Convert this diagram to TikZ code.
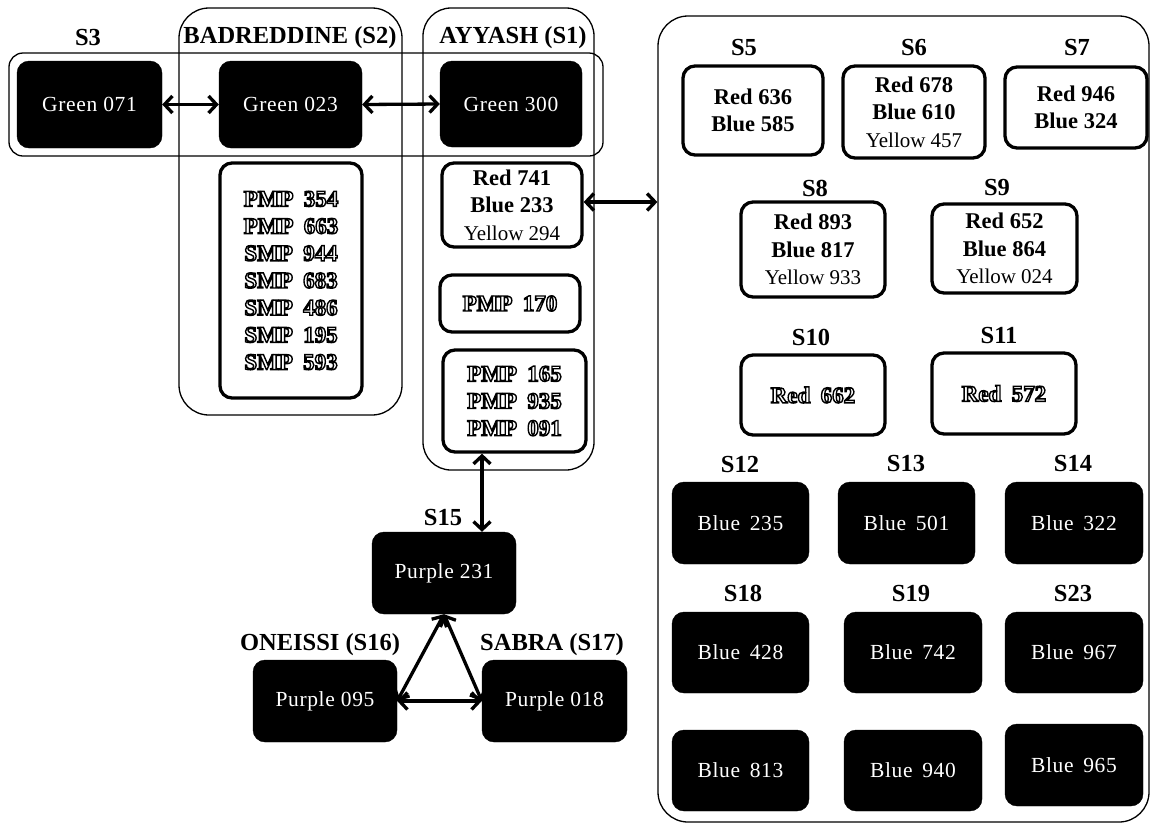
\documentclass[tikz,border=0pt]{standalone}
\usepackage{fontspec}
\setmainfont{Liberation Serif}
\newfontfamily\wfont[LetterSpace=3]{Liberation Serif}
\usetikzlibrary{arrows.meta}
\newcommand\outl[1]{\special{pdf:literal direct 1 Tr 1.4 w}#1\special{pdf:literal direct 0 Tr}}
\newcommand\gap{\hspace{0.45em}}
\begin{document}
\begin{tikzpicture}[x=1pt,y=-1pt,
  grp/.style={draw=black,line width=1.3pt,inner sep=0pt,rectangle},
  blk/.style={fill=black,draw=black,rounded corners=12pt,text=white,inner sep=0pt,
    font=\wfont\fontsize{21.5}{26}\selectfont},
  wbx/.style={draw=black,fill=white,line width=3.3pt,rounded corners=12pt,inner sep=0pt,
    align=center,font=\fontsize{22.5}{27.3}\selectfont\bfseries},
  obx/.style={draw=black,fill=white,line width=3.3pt,rounded corners=12pt,inner sep=0pt,
    align=center,font=\fontsize{23}{27.2}\selectfont\bfseries},
  lbl/.style={inner sep=0pt,font=\fontsize{24.5}{24.5}\selectfont\bfseries},
  ar/.style={line width=3.3pt,{Straight Barb[length=8pt,width=17pt]}-{Straight Barb[length=8pt,width=17pt]}}
]
\useasboundingbox (0,0) rectangle (1150,831);
% containers
\node[grp,rounded corners=30pt,minimum width=223pt,minimum height=407pt] (s2grp) at (290.5,211.5) {};
\node[grp,rounded corners=28pt,minimum width=171pt,minimum height=462pt] (s1grp) at (508.5,239) {};
\node[grp,rounded corners=14pt,minimum width=594pt,minimum height=103pt] (hgrp) at (306,104.5) {};
\node[grp,rounded corners=30pt,minimum width=491pt,minimum height=806pt] (right) at (903.5,419) {};
% labels
\node[lbl] (lS3) at (88,38) {S3};
\node[lbl] (lS2) at (290,38) {BADREDDINE (S2)};
\node[lbl] (lS1) at (513,38) {AYYASH (S1)};
\node[lbl] (lS5) at (744,48) {S5};
\node[lbl] (lS6) at (914,48) {S6};
\node[lbl] (lS7) at (1077,48) {S7};
\node[lbl] (lS8) at (815,188) {S8};
\node[lbl] (lS9) at (997,188) {S9};
\node[lbl] (lS10) at (811,337) {S10};
\node[lbl] (lS11) at (999,335) {S11};
\node[lbl] (lS12) at (740,464) {S12};
\node[lbl] (lS13) at (906,463) {S13};
\node[lbl] (lS14) at (1073,463) {S14};
\node[lbl] (lS18) at (743,593) {S18};
\node[lbl] (lS19) at (911,593) {S19};
\node[lbl] (lS23) at (1073,593) {S23};
\node[lbl] (lS15) at (443,517) {S15};
\node[lbl] (lS16) at (320,645) {ONEISSI (S16)};
\node[lbl] (lS17) at (552,645) {SABRA (S17)};
% black boxes
\node[blk,minimum width=145pt,minimum height=87pt] (g071) at (89.5,104.5) {Green 071};
\node[blk,minimum width=143pt,minimum height=87pt] (g023) at (290.5,104.5) {Green 023};
\node[blk,minimum width=142pt,minimum height=86pt] (g300) at (511,104) {Green 300};
\node[blk,minimum width=144pt,minimum height=82pt] (p231) at (444,573) {Purple 231};
\node[blk,minimum width=144pt,minimum height=82pt] (p095) at (325,701) {Purple 095};
\node[blk,minimum width=145pt,minimum height=82pt] (p018) at (554.5,701) {Purple 018};
\node[blk,minimum width=137pt,minimum height=82pt] (b235) at (740.5,523) {Blue\gap 235};
\node[blk,minimum width=137pt,minimum height=82pt] (b501) at (906.5,523) {Blue\gap 501};
\node[blk,minimum width=138pt,minimum height=82pt] (b322) at (1074,523) {Blue\gap 322};
\node[blk,minimum width=137pt,minimum height=81pt] (b428) at (740.5,652.5) {Blue\gap 428};
\node[blk,minimum width=138pt,minimum height=81pt] (b742) at (913,652.5) {Blue\gap 742};
\node[blk,minimum width=138pt,minimum height=81pt] (b967) at (1074,652.5) {Blue\gap 967};
\node[blk,minimum width=137pt,minimum height=81pt] (b813) at (740.5,770.5) {Blue\gap 813};
\node[blk,minimum width=138pt,minimum height=81pt] (b940) at (913,770.5) {Blue\gap 940};
\node[blk,minimum width=138pt,minimum height=82pt] (b965) at (1074,765) {Blue\gap 965};
% white boxes
\node[obx,minimum width=142pt,minimum height=235pt] (pmps2) at (291,280.5)
  {\outl{PMP\gap 354\\PMP\gap 663\\SMP\gap 944\\SMP\gap 683\\SMP\gap 486\\SMP\gap 195\\SMP\gap 593}};
\node[wbx,minimum width=140pt,minimum height=84pt] (r741) at (512,205)
  {Red 741\\Blue 233\\{\mdseries\fontsize{21}{27.3}\selectfont Yellow 294}};
\node[obx,minimum width=140pt,minimum height=57pt] (pmp170) at (510,303.5) {\outl{PMP\gap 170}};
\node[obx,minimum width=143pt,minimum height=102pt] (pmp165) at (514.5,401)
  {\outl{PMP\gap 165\\PMP\gap 935\\PMP\gap 091}};
\node[wbx,minimum width=140pt,minimum height=89pt] (s5) at (753,110.5) {Red 636\\Blue 585};
\node[wbx,minimum width=142pt,minimum height=92pt] (s6) at (914,112)
  {Red 678\\Blue 610\\{\mdseries\fontsize{21}{27.3}\selectfont Yellow 457}};
\node[wbx,minimum width=142pt,minimum height=81pt] (s7) at (1076,107.5) {Red 946\\Blue 324};
\node[wbx,minimum width=144pt,minimum height=95pt] (s8) at (813,249.5)
  {Red 893\\Blue 817\\{\mdseries\fontsize{21}{27.3}\selectfont Yellow 933}};
\node[wbx,minimum width=145pt,minimum height=89pt] (s9) at (1004.5,248.5)
  {Red 652\\Blue 864\\{\mdseries\fontsize{21}{27.3}\selectfont Yellow 024}};
\node[obx,minimum width=144pt,minimum height=80pt] (s10) at (813,395) {\outl{Red\gap 662}};
\node[obx,minimum width=144pt,minimum height=81pt] (s11) at (1004,393.5) {\outl{Red\gap 572}};
% connectors
\coordinate (ax) at (482,0);
\coordinate (ay) at (0,202);
\draw[ar] (g071.east) -- (g023.west);
\draw[ar] (g023.east) -- (g300.west);
\draw[ar] (r741.east |- ay) -- (right.west |- ay);
\draw[ar] (pmp165.south -| ax) -- (p231.north -| ax);
\draw[ar] (p231.south) -- (p095.east);
\draw[ar] (p231.south) -- (p018.west);
\draw[ar] (p095.east) -- (p018.west);
\end{tikzpicture}
\end{document}
